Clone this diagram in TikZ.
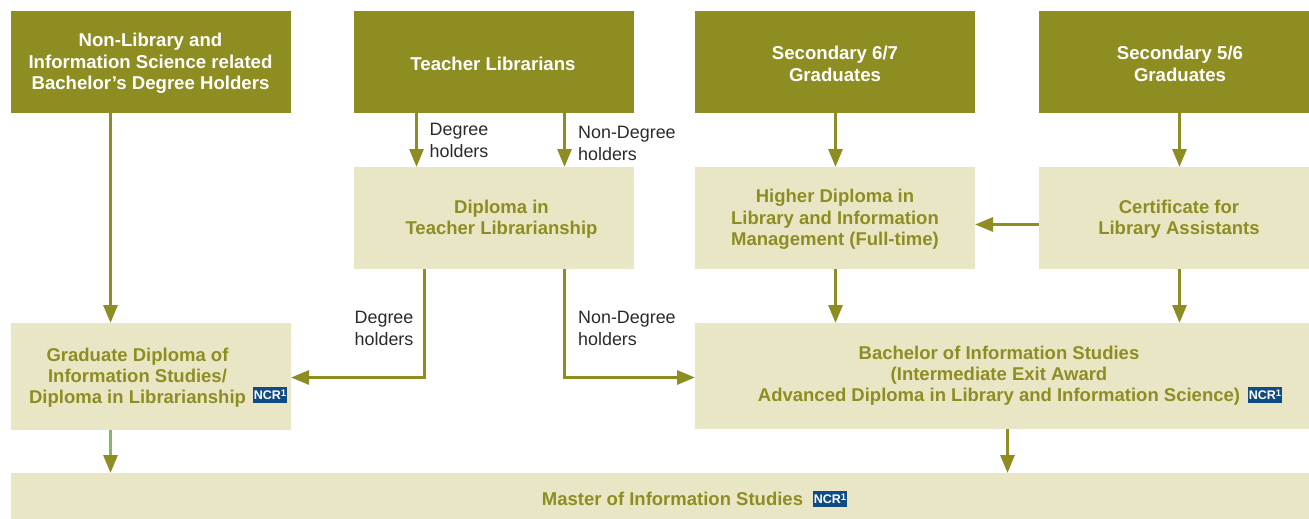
\documentclass[tikz,border=0pt]{standalone}
\usepackage{fontspec}
\setmainfont{Liberation Sans}
\usetikzlibrary{arrows.meta}
\definecolor{olivedark}{HTML}{8E8D21}
\definecolor{olivelight}{HTML}{E9E6C6}
\definecolor{ncrblue}{HTML}{0F4C87}
\definecolor{arrowgreen}{HTML}{7FBA5F}
\definecolor{labelink}{HTML}{2A2A2A}
\tikzset{
  x=1pt,y=-1pt,
  boxbase/.style={inner sep=0pt,outer sep=0pt,anchor=north west,minimum height=#1},
  darkbox/.style={boxbase=102pt,fill=olivedark,minimum width=280pt},
  lightbox/.style={boxbase=102pt,fill=olivelight,minimum width=280pt},
  darktext/.style={text=white,font=\fontsize{18.6}{21.5}\selectfont\bfseries,align=center,inner sep=0pt},
  lighttext/.style={text=olivedark,font=\fontsize{18.5}{21.3}\selectfont\bfseries,align=center,inner sep=0pt},
  edgelabel/.style={text=labelink,font=\fontsize{17.9}{21.7}\selectfont,align=left,anchor=west,inner sep=0pt},
  badge/.style={fill=ncrblue,text=white,inner sep=0pt,minimum width=34pt,minimum height=16pt,font=\fontsize{12.5}{13}\selectfont\bfseries},
  flow/.style={draw=olivedark,line width=3pt,-{Triangle[length=18pt,width=14pt,color=olivedark]}},
  flowgreen/.style={draw=arrowgreen,line width=3pt,-{Triangle[length=18pt,width=14pt,color=olivedark]}},
}
\newcommand{\ncrmark}{NCR\raisebox{3.5pt}{\fontsize{9.5}{9.5}\selectfont 1}}
\begin{document}
\begin{tikzpicture}
\useasboundingbox (0,0) rectangle (1309,519);
% boxes
\node[darkbox] (nonlib) at (11,11) {};
\node[darkbox] (teach) at (354,11) {};
\node[darkbox] (sec67) at (695,11) {};
\node[darkbox,minimum width=270pt] (sec56) at (1039,11) {};
\node[lightbox] (dip) at (354,167) {};
\node[lightbox] (hd) at (695,167) {};
\node[lightbox,minimum width=270pt] (cert) at (1039,167) {};
\node[lightbox,minimum height=107pt] (gd) at (11,323) {};
\node[lightbox,minimum width=614pt,minimum height=106pt] (bis) at (695,323) {};
\node[lightbox,minimum width=1298pt,minimum height=46pt] (master) at (11,473) {};
% texts
\node[darktext] (t1) at (150.5,63.7) {Non-Library and\\Information Science related\\Bachelor’s Degree Holders};
\node[darktext] (t2) at (493,63.5) {Teacher Librarians};
\node[darktext] (t3) at (835,64) {Secondary 6/7\\Graduates};
\node[darktext] (t4) at (1180,64) {Secondary 5/6\\Graduates};
\node[lighttext] (t5) at (501.5,219) {Diploma in\\Teacher Librarianship};
\node[lighttext] (t6) at (835,219.5) {Higher Diploma in\\Library and Information\\Management (Full-time)};
\node[lighttext] (t7) at (1179,219) {Certificate for\\Library Assistants};
\node[lighttext] (t8) at (137.5,377.7) {Graduate Diploma of\\Information Studies/\\Diploma in Librarianship};
\node[lighttext] (t9) at (999,375.7) {Bachelor of Information Studies\\(Intermediate Exit Award\\Advanced Diploma in Library and Information Science)};
\node[lighttext] (t10) at (672.5,498.7) {Master of Information Studies};
% badges
\node[badge] (b1) at (270,395) {\ncrmark};
\node[badge] (b2) at (1265,395) {\ncrmark};
\node[badge] (b3) at (830,499) {\ncrmark};
% routing coordinates
\coordinate (xa) at (110.5,0);
\coordinate (xb) at (416.5,0);
\coordinate (xc) at (564.5,0);
\coordinate (xd) at (835.5,0);
\coordinate (xe) at (1179.5,0);
\coordinate (xf) at (424.5,0);
\coordinate (xg) at (1007.5,0);
\coordinate (yh) at (0,377.5);
\coordinate (yi) at (0,224.5);
% connectors
\draw[flow] (nonlib.south -| xa) -- (gd.north -| xa);
\draw[flow] (teach.south -| xb) -- (dip.north -| xb);
\draw[flow] (teach.south -| xc) -- (dip.north -| xc);
\draw[flow] (sec67.south -| xd) -- (hd.north -| xd);
\draw[flow] (sec56.south -| xe) -- (cert.north -| xe);
\draw[flow] (cert.west |- yi) -- (hd.east |- yi);
\draw[flow] (hd.south -| xd) -- (bis.north -| xd);
\draw[flow] (cert.south -| xe) -- (bis.north -| xe);
\draw[flow] (dip.south -| xf) -- (xf |- yh) -- (gd.east |- yh);
\draw[flow] (dip.south -| xc) -- (xc |- yh) -- (bis.west |- yh);
\draw[flowgreen] (gd.south -| xa) -- (master.north -| xa);
\draw[flow] (bis.south -| xg) -- (master.north -| xg);
% edge labels
\node[edgelabel] (l1) at (429.5,140.3) {Degree\\holders};
\node[edgelabel] (l2) at (578,143.7) {Non-Degree\\holders};
\node[edgelabel] (l3) at (354.5,328.7) {Degree\\holders};
\node[edgelabel] (l4) at (578,328.7) {Non-Degree\\holders};
\end{tikzpicture}
\end{document}
